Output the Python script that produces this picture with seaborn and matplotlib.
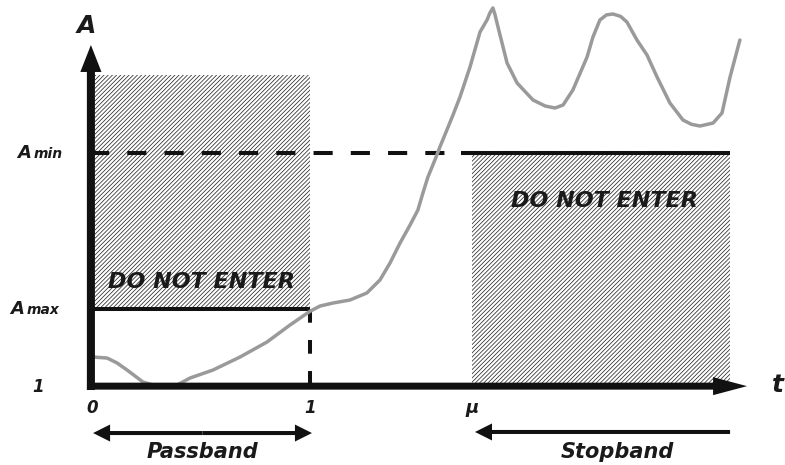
import numpy as np
import pandas as pd
import matplotlib
matplotlib.use("Agg")
import matplotlib.pyplot as plt
import seaborn as sns

# ---------------- data ----------------
# response curve (t, A)
curve_t = [0.005, 0.069, 0.115, 0.161, 0.234, 0.312, 0.390, 0.450, 0.555, 0.679, 0.803,
           0.908, 1.000, 1.046, 1.106, 1.183, 1.261, 1.321, 1.367, 1.413, 1.459,
           1.495, 1.518, 1.541, 1.573, 1.596, 1.656, 1.688, 1.734, 1.780, 1.812,
           1.826, 1.839, 1.848, 1.858, 1.881, 1.904, 1.950, 2.023, 2.080, 2.124, 2.161,
           2.206, 2.271, 2.298, 2.330, 2.360, 2.390, 2.425, 2.454, 2.500, 2.546, 2.592,
           2.651, 2.711, 2.750, 2.789, 2.849, 2.890, 2.927, 2.972]
curve_A = [1.368, 1.355, 1.290, 1.197, 1.039, 0.974, 1.000, 1.092, 1.197, 1.368, 1.566,
           1.789, 1.970, 2.039, 2.079, 2.118, 2.211, 2.382, 2.605, 2.868, 3.105,
           3.303, 3.526, 3.737, 3.961, 4.132, 4.553, 4.789, 5.184, 5.645, 5.803,
           5.900, 5.961, 5.880, 5.763, 5.500, 5.237, 4.974, 4.750, 4.670, 4.645, 4.684,
           4.882, 5.316, 5.579, 5.803, 5.870, 5.882, 5.850, 5.776, 5.539, 5.342, 5.053,
           4.711, 4.487, 4.430, 4.408, 4.447, 4.579, 5.053, 5.539]

# specification levels
A_ONE = 1.0
A_MAX = 2.0
A_MIN = 4.05
A_TOP = 5.08          # top of passband forbidden region
T_PASS = 1.0          # passband edge
T_MU = 1.743          # stopband edge
T_END = 2.927         # end of drawn stopband region

x_tick_labels = ["0", "1", "\u03bc"]
x_tick_pos = [0.0, T_PASS, T_MU]

df = pd.DataFrame({"t": curve_t, "A": curve_A})

# ---------------- figure ----------------
sns.set_theme(style="white")
plt.rcParams["font.family"] = ["DejaVu Sans"]
plt.rcParams["hatch.linewidth"] = 0.55
plt.rcParams["hatch.color"] = "#2a2a2a"

fig = plt.figure(figsize=(7.85, 4.65), dpi=100)
ax = fig.add_axes([0, 0, 1, 1])

# hatched forbidden regions
ax.fill_between([0.015, T_PASS], [A_MAX, A_MAX], [A_TOP, A_TOP],
                facecolor="white", edgecolor="#2a2a2a", hatch="////////",
                linewidth=0, zorder=1)
ax.fill_between([T_MU, T_END], [A_ONE, A_ONE], [A_MIN, A_MIN],
                facecolor="white", edgecolor="#2a2a2a", hatch="////////",
                linewidth=0, zorder=1)

# spec lines
ax.plot([-0.01, T_END], [A_MIN, A_MIN], color="#111111", lw=2.9,
        dashes=(4.75, 4.5), solid_capstyle="butt", zorder=2)
ax.plot([T_MU - 0.05, T_END], [A_MIN, A_MIN], color="#111111", lw=2.9,
        solid_capstyle="butt", zorder=2)
ax.plot([0, T_PASS], [A_MAX, A_MAX], color="#111111", lw=2.9,
        solid_capstyle="butt", zorder=2)
ax.plot([T_PASS, T_PASS], [A_MAX, A_ONE], color="#111111", lw=2.9,
        dashes=(3.4, 4.3), solid_capstyle="butt", zorder=2)

# response curve
sns.lineplot(data=df, x="t", y="A", sort=False, estimator=None,
             color="#9a9a9a", lw=2.5, ax=ax, zorder=3)
ax.lines[-1].set_solid_joinstyle("round")
ax.lines[-1].set_solid_capstyle("round")
ax.axis("off")
ax.set_xlim(-0.422, 3.179)
ax.set_ylim(-0.0526, 6.066)

# axes arrows
ax.arrow(-0.005, A_ONE - 0.066, 0, 5.474 - (A_ONE - 0.066), width=0.037,
         head_width=0.097, head_length=0.355, length_includes_head=True,
         fc="#111111", ec="none", zorder=5)
ax.arrow(-0.023, 0.985, 3.005 + 0.023, 0, width=0.092, head_width=0.237,
         head_length=0.156, length_includes_head=True,
         fc="#111111", ec="none", zorder=5)

# passband / stopband arrows
pb_y = 0.368
mid = (0.005 + 1.009) / 2
for end in (0.005, 1.009):
    ax.arrow(mid, pb_y, end - mid, 0, width=0.053, head_width=0.224,
             head_length=0.078, length_includes_head=True,
             fc="#111111", ec="none", zorder=5)
ax.arrow(T_END, 0.382, 1.757 - T_END, 0, width=0.053, head_width=0.224,
         head_length=0.078, length_includes_head=True,
         fc="#111111", ec="none", zorder=5)

# ---------------- text ----------------
tk = dict(fontweight="bold", fontstyle="italic", color="#1a1a1a", zorder=6)

ax.text(-0.0725, 5.632, "A", fontsize=18, ha="left", va="baseline", **tk)
ax.text(3.172, 0.908, "t", fontsize=18, ha="right", va="baseline", **tk)

ax.text(-0.344, 3.987, "A", fontsize=13, ha="left", va="baseline", **tk)
ax.text(-0.270, 3.987, "min", fontsize=10, ha="left", va="baseline", **tk)
ax.text(-0.376, 1.934, "A", fontsize=13, ha="left", va="baseline", **tk)
ax.text(-0.300, 1.934, "max", fontsize=10, ha="left", va="baseline", **tk)
ax.text(-0.275, 0.908, "1", fontsize=12, ha="left", va="baseline", **tk)

for pos, lab in zip(x_tick_pos, x_tick_labels):
    ax.text(pos, 0.632, lab, fontsize=12 if lab != "\u03bc" else 13,
            ha="center", va="baseline", **tk)

ax.text(0.502, 2.276, "DO NOT ENTER", fontsize=16, ha="center", va="baseline", **tk)
ax.text(2.349, 3.342, "DO NOT ENTER", fontsize=16, ha="center", va="baseline", **tk)

ax.text(0.505, 0.039, "Passband", fontsize=15, ha="center", va="baseline", **tk)
ax.text(2.408, 0.039, "Stopband", fontsize=15, ha="center", va="baseline", **tk)

fig.savefig("out.png", dpi=100)
